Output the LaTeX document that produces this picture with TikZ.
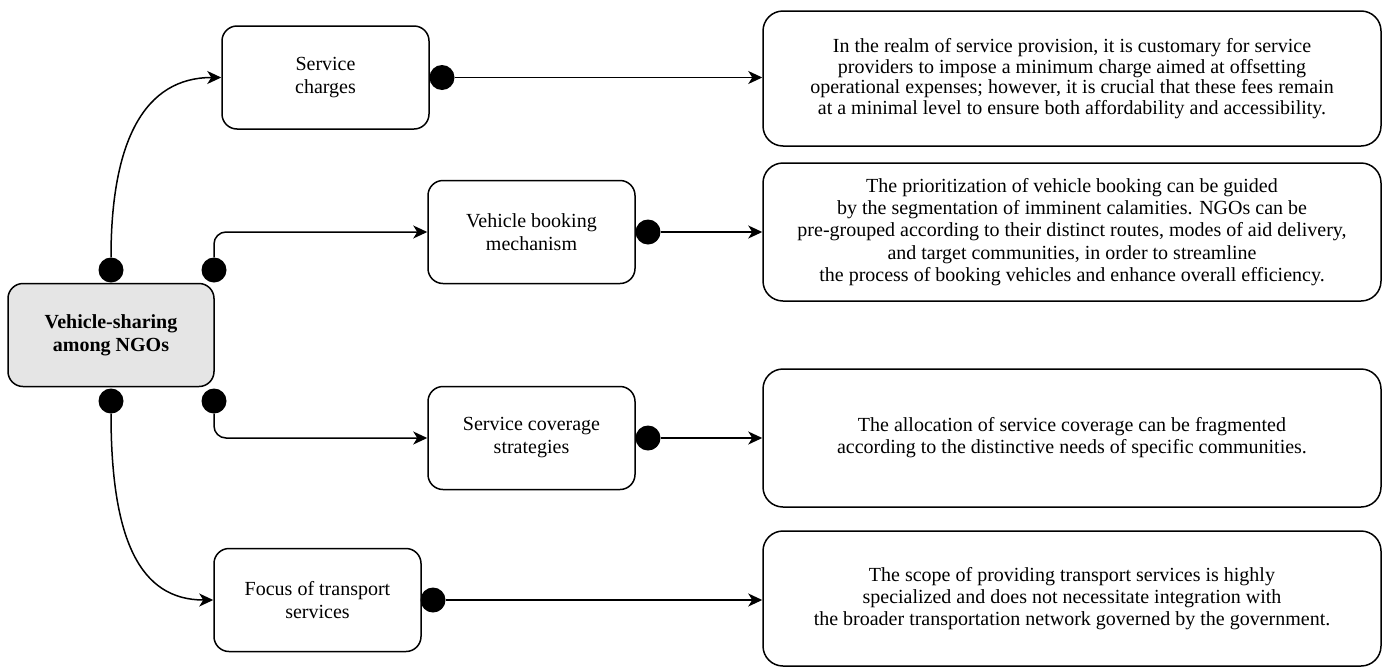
\documentclass[tikz,border=0pt]{standalone}
\usepackage{fontspec}
\setmainfont{Liberation Serif}
\usetikzlibrary{arrows.meta}
\begin{document}
\begin{tikzpicture}[x=1pt,y=-1pt,
  every node/.style={font=\fontsize{20}{23}\selectfont},
  box/.style={draw,line width=1.5pt,rounded corners=15pt,align=center,inner sep=0pt,
    minimum width=207pt,minimum height=103pt},
  mainbox/.style={box,fill=black!10,font=\fontsize{20}{23}\selectfont\bfseries,minimum width=206pt},
  infobox/.style={draw,line width=1.5pt,rounded corners=20pt,align=center,inner sep=0pt,
    minimum width=618pt,font=\fontsize{20}{22.2}\selectfont},
  dot/.style={circle,fill=black,inner sep=0pt,minimum size=25pt},
  link/.style={line width=1.5pt,-{Stealth[length=14pt,width=13pt,inset=4pt]}},
]
\useasboundingbox (0,0) rectangle (1384,667);

% central topic
\node[mainbox] (main) at (111,335) {Vehicle-sharing\\among NGOs};

% aspects
\node[box] (charges)  at (325.5,77.5) {Service\\charges};
\node[box] (booking)  at (531.5,232)  {Vehicle booking\\mechanism};
\node[box] (coverage) at (531.5,438)  {Service coverage\\strategies};
\node[box] (focus)    at (317.5,600)  {Focus of transport\\services};

% explanations
\node[infobox,minimum height=135pt,font=\fontsize{20}{20.5}\selectfont] (i1) at (1072,78.5)
  {In the realm of service provision, it is customary for service\\
   providers to impose a minimum charge aimed at offsetting\\
   operational expenses; however, it is crucial that these fees remain\\
   at a minimal level to ensure both affordability and accessibility.};
\node[infobox,minimum height=138pt] (i2) at (1072,232)
  {The prioritization of vehicle booking can be guided\\
   by the segmentation of imminent calamities. NGOs can be\\
   pre-grouped according to their distinct routes, modes of aid delivery,\\
   and target communities, in order to streamline\\
   the process of booking vehicles and enhance overall efficiency.};
\node[infobox,minimum height=138pt] (i3) at (1072,438)
  {The allocation of service coverage can be fragmented\\
   according to the distinctive needs of specific communities.};
\node[infobox,minimum height=135pt] (i4) at (1072,598.5)
  {The scope of providing transport services is highly\\
   specialized and does not necessitate integration with\\
   the broader transportation network governed by the government.};

% connector start dots
\node[dot] (m1) at (111,270) {};
\node[dot] (m2) at (214,270) {};
\node[dot] (m3) at (214,401) {};
\node[dot] (m4) at (111,401) {};
\node[dot] (c1) at (442,77.5) {};
\node[dot] (c2) at (648,232) {};
\node[dot] (c3) at (648,438) {};
\node[dot] (c4) at (433,600) {};

% connectors from the central topic
\draw[link] (m1.north) .. controls (111,140) and (145,77.5) .. (charges.west);
\draw[link,rounded corners=12pt] (m2.north) |- (booking.west);
\draw[link,rounded corners=12pt] (m3.south) |- (coverage.west);
\draw[link] (m4.south) .. controls (111,540) and (140,600) .. (focus.west);

% connectors to the explanations
\draw[link] (c1.east) -- (i1.west |- c1);
\draw[link] (c2.east) -- (i2.west |- c2);
\draw[link] (c3.east) -- (i3.west |- c3);
\draw[link] (c4.east) -- (i4.west |- c4);
\end{tikzpicture}
\end{document}
